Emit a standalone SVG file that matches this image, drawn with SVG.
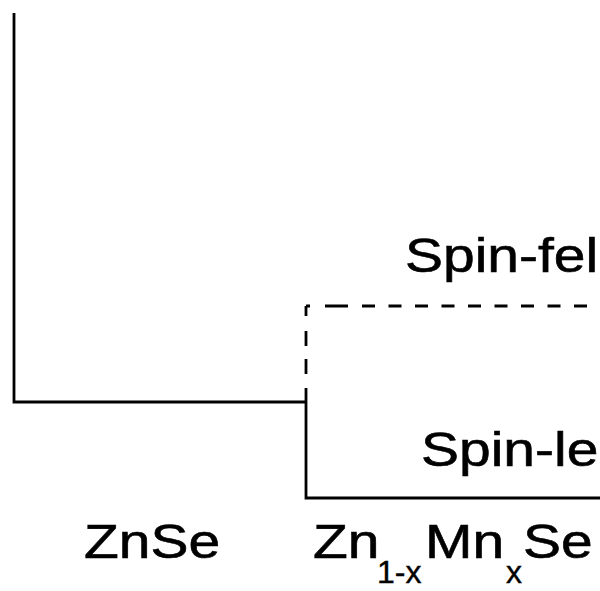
<svg xmlns="http://www.w3.org/2000/svg" width="600" height="591" viewBox="0 0 600 591">
<style>
.ln{fill:none;stroke:#000;stroke-width:2.8}
.dash{fill:none;stroke:#000;stroke-width:2.8;stroke-dasharray:13 13.5}
.t{font-family:"Liberation Sans",Arial,sans-serif;font-size:57px;fill:#000;stroke:#000;stroke-width:0.7}
.s{font-family:"Liberation Sans",Arial,sans-serif;font-size:32px;fill:#000;stroke:#000;stroke-width:0.4}
</style>
<rect width="600" height="591" fill="#fff"/>
<g id="connectors">
<path class="ln" d="M14,13 V402 H306"/>
<path class="ln" d="M306,388 V498 H600"/>
<path class="ln" d="M306,306 V388" style="stroke-dasharray:10 15 15 13 15 15"/>
<path class="ln" d="M306,306 H310 M325,306 H348"/>
<path class="dash" d="M362,306 H600"/>
</g>
<g id="spin-fel"><text class="t" transform="matrix(1,0,0,0.86,405,272)">Spin-fel</text></g>
<g id="spin-le"><text class="t" transform="matrix(1,0,0,0.86,421,466)">Spin-le</text></g>
<g id="znse"><text class="t" transform="matrix(1,0,0,0.86,84,558)">ZnSe</text></g>
<g id="znmnse">
<text class="t" transform="matrix(1,0,0,0.86,313,558)">Zn</text>
<text class="s" x="377" y="583">1-x</text>
<text class="t" transform="matrix(1,0,0,0.86,425,558)">Mn</text>
<text class="s" x="506" y="583">x</text>
<text class="t" transform="matrix(1,0,0,0.86,523,558)">Se</text>
</g>
</svg>
